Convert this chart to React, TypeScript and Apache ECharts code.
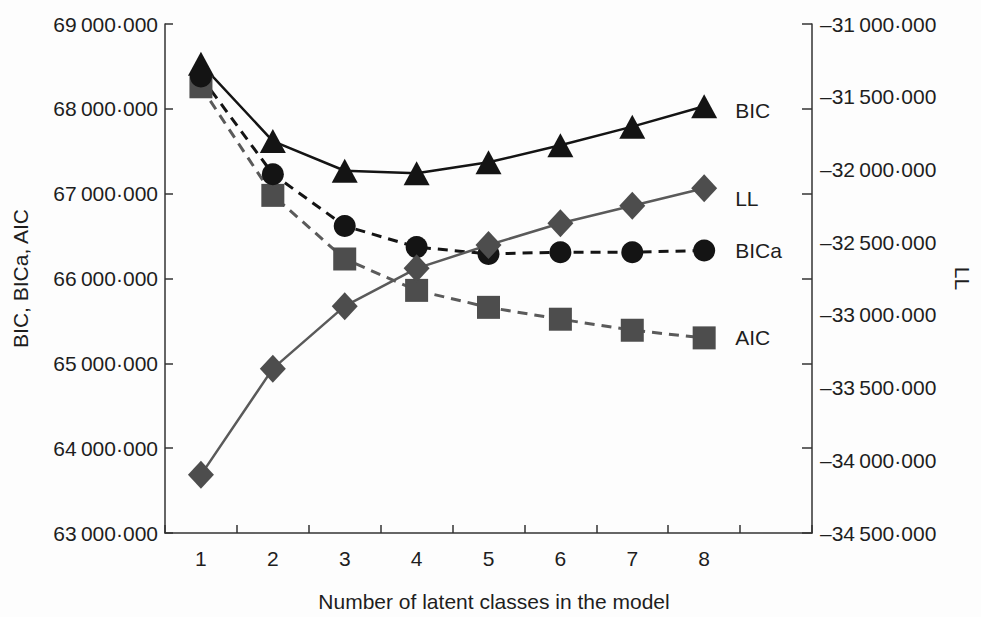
import React, { useEffect, useRef } from "react";
import * as echarts from "echarts";

const categories = ["1", "2", "3", "4", "5", "6", "7", "8", ""];
const bic = [68530000, 67620000, 67270000, 67240000, 67370000, 67570000, 67790000, 68030000];
const bica = [68380000, 67230000, 66620000, 66370000, 66290000, 66310000, 66310000, 66330000];
const aic = [68260000, 66980000, 66230000, 65860000, 65660000, 65520000, 65390000, 65300000];
const ll = [-34100000, -33370000, -32940000, -32680000, -32520000, -32370000, -32250000, -32130000];

const leftMin = 63000000;
const leftMax = 69000000;
const leftStep = 1000000;
const rightMin = -34500000;
const rightMax = -31000000;
const rightStep = 500000;

const FONT = "'Liberation Sans', Arial, sans-serif";
const TXT = "#1e1e1e";

function pad3(n: number): string {
  return String(n).padStart(3, "0");
}
function fmt(v: number): string {
  const neg = v < 0;
  const a = Math.round(Math.abs(v));
  const m = Math.floor(a / 1e6);
  const th = Math.floor((a % 1e6) / 1e3);
  const u = a % 1e3;
  return (neg ? "\u2013" : "") + m + "\u2009" + pad3(th) + "\u00b7" + pad3(u);
}

export default function App() {
  const ref = useRef<HTMLDivElement>(null);
  useEffect(() => {
    if (!ref.current) return;
    const chart = echarts.init(ref.current, undefined, { renderer: "svg", width: 981, height: 617 });
    const labelStyle = { fontFamily: FONT, fontSize: 21, color: TXT };
    const endLabel = (name: string, offsetY: number) => ({
      show: true,
      formatter: name,
      distance: 31,
      offset: [0, offsetY],
      fontFamily: FONT,
      fontSize: 21,
      color: TXT,
    });
    chart.setOption({
      animation: false,
      backgroundColor: "#fdfdfd",
      grid: { left: 165, width: 659, top: 24, height: 514, containLabel: false },
      xAxis: {
        type: "category",
        data: categories,
        boundaryGap: true,
        name: "Number of latent classes in the model",
        nameLocation: "middle",
        nameGap: 58,
        nameTextStyle: { ...labelStyle, padding: [0, 0, 0, 11] },
        axisLine: { lineStyle: { color: "#333", width: 1.5 } },
        axisTick: { show: true, inside: true, length: 8, lineStyle: { color: "#333", width: 1.5 } },
        axisLabel: { ...labelStyle, margin: 15 },
        splitLine: { show: false },
      },
      yAxis: [
        {
          type: "value",
          position: "left",
          min: leftMin,
          max: leftMax,
          interval: leftStep,
          name: "BIC, BICa, AIC",
          nameLocation: "middle",
          nameGap: 134,
          nameRotate: 90,
          nameTextStyle: labelStyle,
          axisLine: { show: true, lineStyle: { color: "#333", width: 1.5 } },
          axisTick: { show: true, inside: true, length: 8, lineStyle: { color: "#333", width: 1.5 } },
          axisLabel: { ...labelStyle, margin: 7, formatter: (v: number) => fmt(v) },
          splitLine: { show: false },
        },
        {
          type: "value",
          position: "right",
          min: rightMin,
          max: rightMax,
          interval: rightStep,
          name: "LL",
          nameLocation: "middle",
          nameGap: 140,
          nameRotate: -90,
          nameTextStyle: labelStyle,
          axisLine: { show: true, lineStyle: { color: "#333", width: 1.5 } },
          axisTick: { show: false },
          axisLabel: { ...labelStyle, margin: 8, formatter: (v: number) => fmt(v) },
          splitLine: { show: false },
        },
        {
          type: "value",
          position: "right",
          offset: 0,
          min: leftMin,
          max: leftMax,
          interval: leftStep,
          axisLine: { show: false },
          axisTick: { show: true, inside: true, length: 10, lineStyle: { color: "#333", width: 1.5 } },
          axisLabel: { show: false },
          splitLine: { show: false },
        },
      ],
      series: [
        {
          name: "AIC",
          type: "line",
          yAxisIndex: 0,
          data: aic,
          symbol: "rect",
          symbolSize: 23,
          itemStyle: { color: "#4d4d4d" },
          lineStyle: { color: "#5a5a5a", width: 3, type: [10, 7] },
          endLabel: endLabel("AIC", 0),
        },
        {
          name: "BIC",
          type: "line",
          yAxisIndex: 0,
          data: bic,
          symbol: "triangle",
          symbolSize: [26, 24],
          itemStyle: { color: "#141414" },
          lineStyle: { color: "#141414", width: 2.5 },
          endLabel: endLabel("BIC", 4),
        },
        {
          name: "BICa",
          type: "line",
          yAxisIndex: 0,
          data: bica,
          symbol: "circle",
          symbolSize: 22,
          itemStyle: { color: "#141414" },
          lineStyle: { color: "#141414", width: 3, type: [10, 7] },
          endLabel: endLabel("BICa", 0),
        },
        {
          name: "LL",
          type: "line",
          yAxisIndex: 1,
          data: ll,
          symbol: "diamond",
          symbolSize: [26, 28],
          itemStyle: { color: "#4d4d4d" },
          lineStyle: { color: "#5a5a5a", width: 2.5 },
          endLabel: endLabel("LL", 10),
        },
      ],
    });
    return () => chart.dispose();
  }, []);
  return (
    <div
      ref={ref}
      style={{ position: "fixed", left: 0, top: 0, width: 981, height: 617 }}
    />
  );
}
